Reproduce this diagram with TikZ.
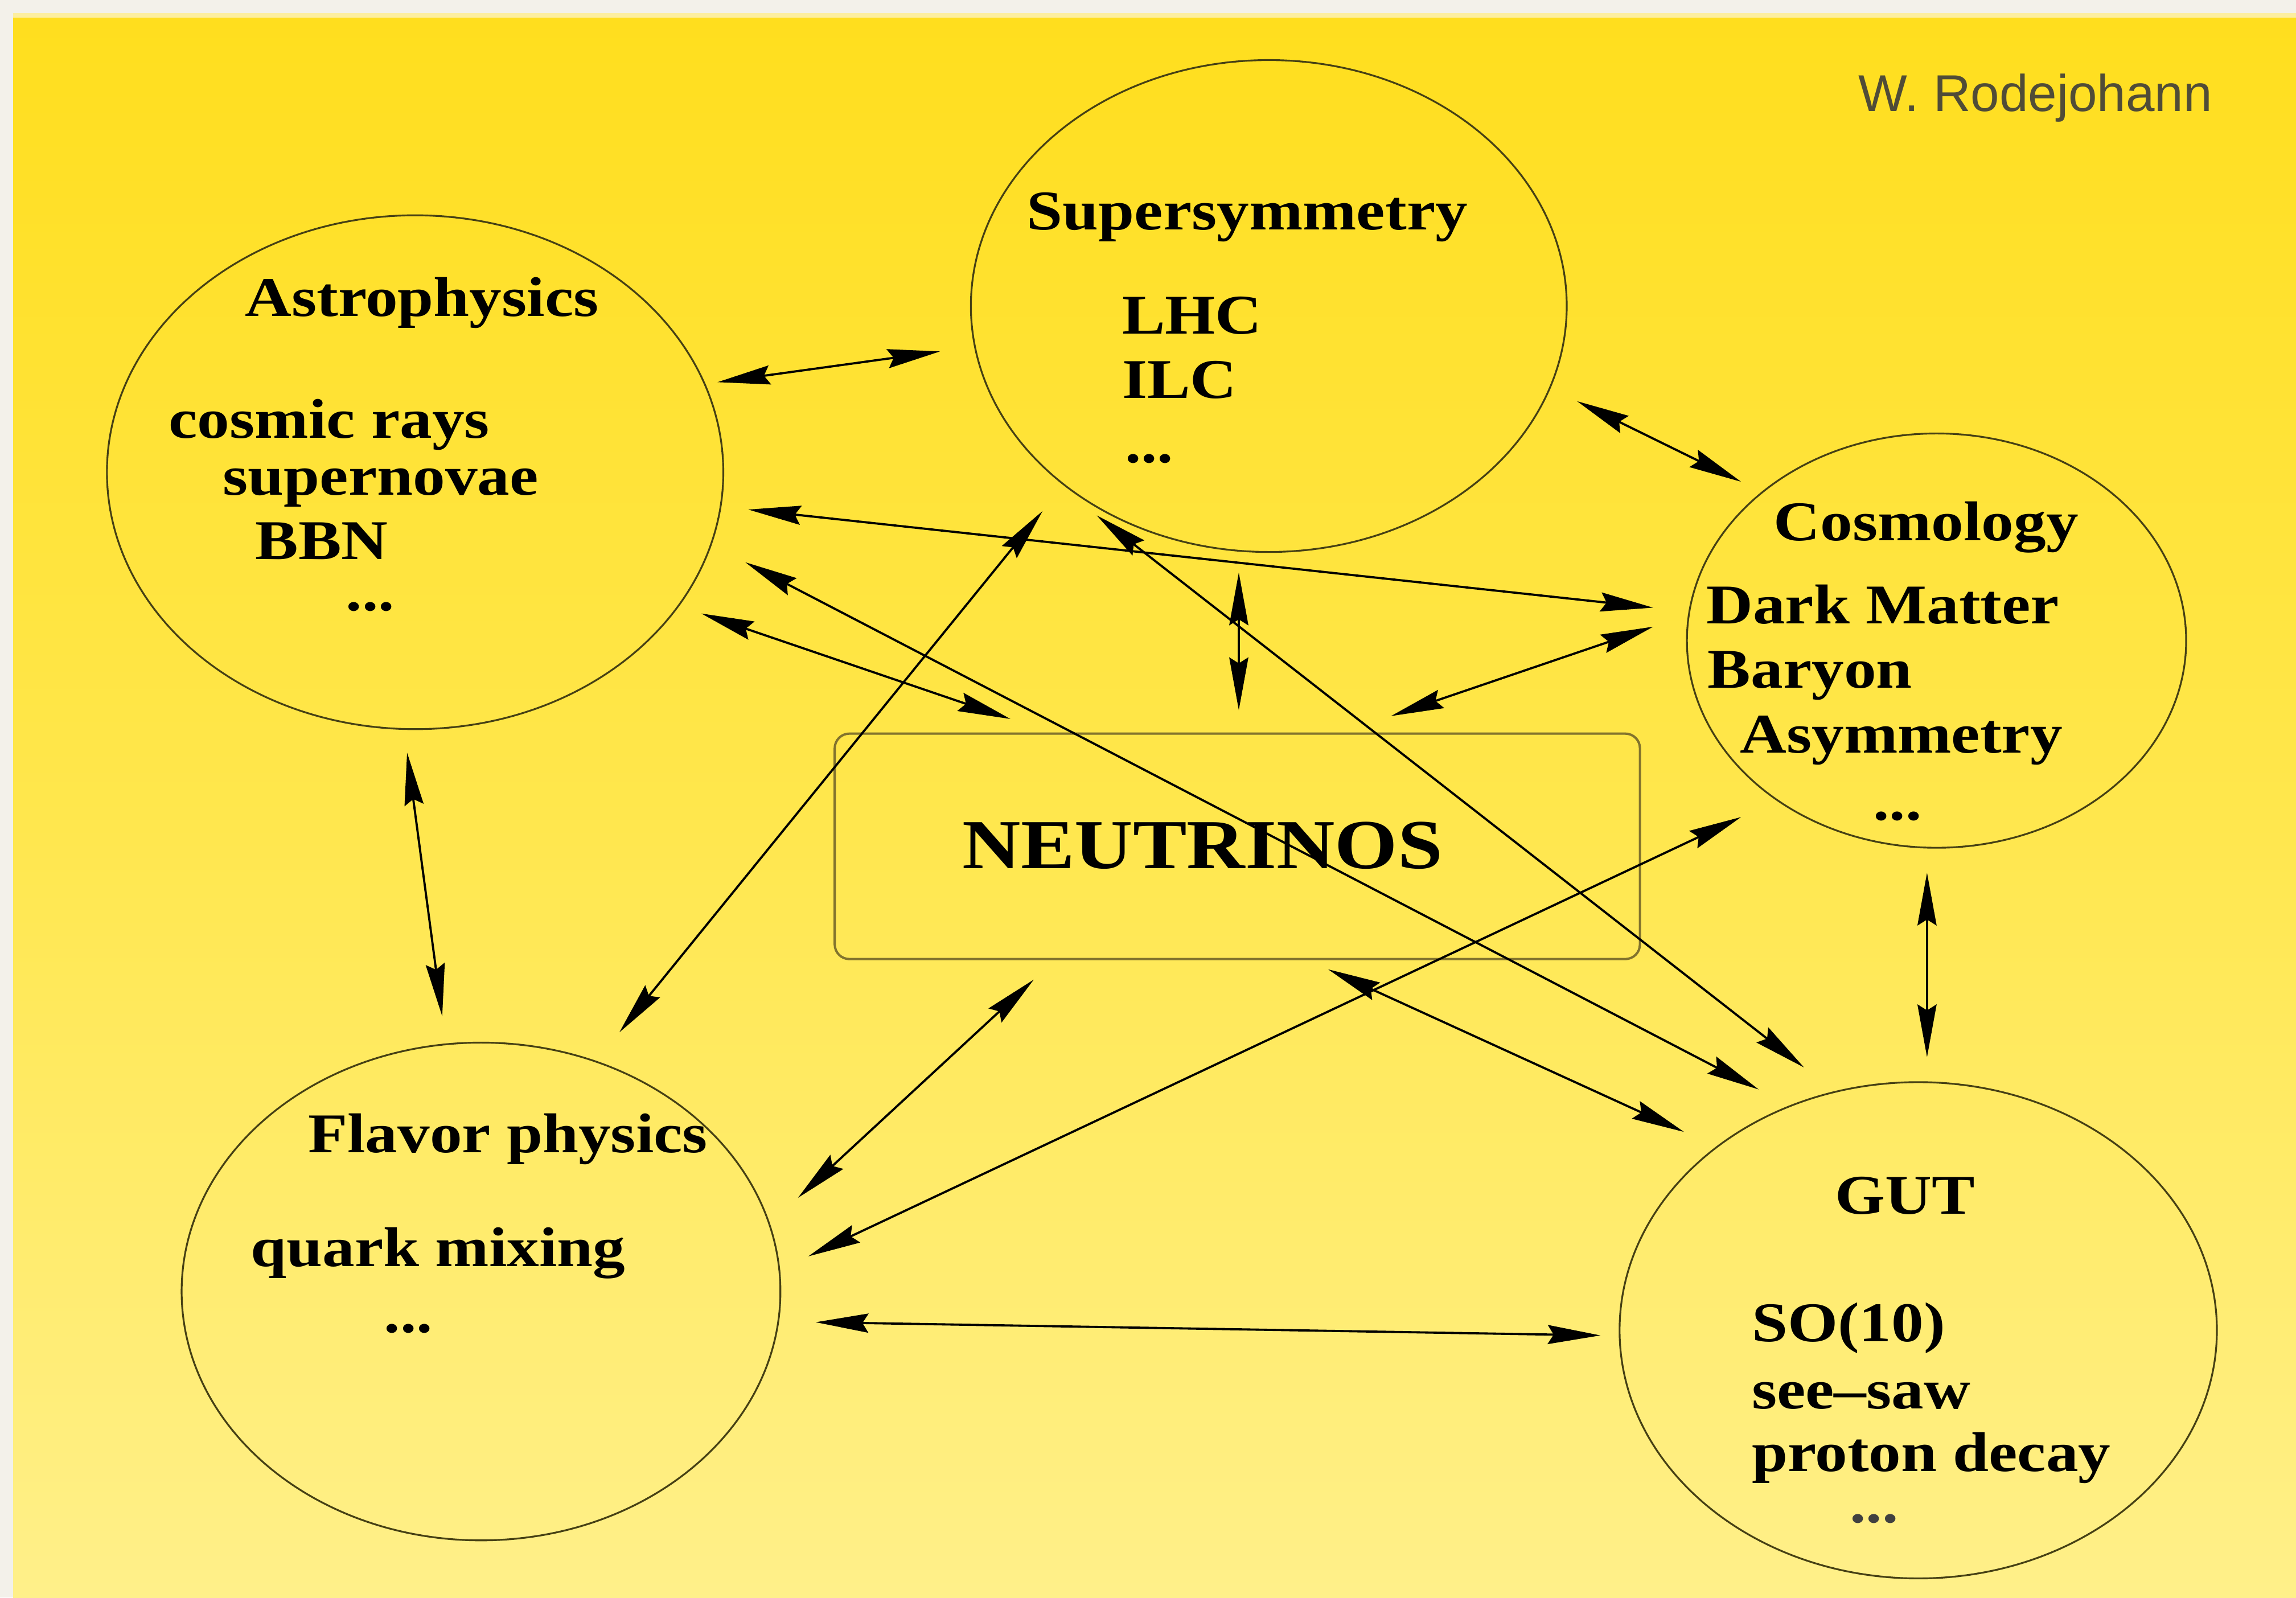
\documentclass[tikz,border=0pt]{standalone}
\usepackage{fontspec}
\setmainfont{Liberation Serif}
\newfontfamily\lab{Liberation Serif}[FakeStretch=1.15]
\newfontfamily\auth{Liberation Sans}
\usetikzlibrary{shapes.geometric,arrows.meta}

\definecolor{ellcol}{RGB}{70,64,20}
\definecolor{boxcol}{RGB}{130,115,45}
\definecolor{authcol}{RGB}{80,76,55}
\definecolor{bggray}{RGB}{243,241,234}
\definecolor{stripcol}{RGB}{252,238,160}
\pgfdeclareverticalshading{bgshade}{100bp}{rgb(0bp)=(1,0.976,0.78); rgb(50bp)=(1,0.905,0.30); rgb(80bp)=(1,0.865,0.08); rgb(100bp)=(1,0.84,0)}

\begin{document}
\begin{tikzpicture}[x=0.02cm,y=-0.02cm,
  topic/.style={ellipse, draw=ellcol, line width=0.7pt, inner sep=0pt},
  txt/.style={anchor=base west, inner sep=0pt, font=\lab\bfseries\fontsize{21.8}{25}\selectfont},
  link/.style={line width=0.85pt, {Stealth[length=0.72cm,width=0.26cm,inset=0.08cm]}-{Stealth[length=0.72cm,width=0.26cm,inset=0.08cm]}}
]
\useasboundingbox (0,0) rectangle (1568,1091);
% background
\fill[bggray] (0,0) rectangle (1568,1091);
\fill[shading=bgshade] (9,11) rectangle (1568,1091);
\fill[stripcol] (9,9) rectangle (1568,12);

% author
\node[anchor=base west, inner sep=0pt, font=\auth\fontsize{20.1}{24}\selectfont, text=authcol] (author) at (1269,76) {W. Rodejohann};

% topic ellipses
\node[topic, minimum width=8.42cm, minimum height=7.02cm] (astro) at (283.5,322.5) {};
\node[topic, minimum width=8.14cm, minimum height=6.72cm] (susy) at (866.5,209) {};
\node[topic, minimum width=6.82cm, minimum height=5.66cm] (cosmo) at (1322.5,437.5) {};
\node[topic, minimum width=8.18cm, minimum height=6.80cm] (flavor) at (328.5,882) {};
\node[topic, minimum width=8.16cm, minimum height=6.78cm] (gut) at (1310,908.5) {};

% central box
\node[draw=boxcol, rounded corners=0.2cm, line width=0.9pt, minimum width=11cm, minimum height=3.08cm, inner sep=0pt] (box) at (845,578) {};
\node[anchor=base west, inner sep=0pt, font=\lab\bfseries\fontsize{27.3}{32}\selectfont] (nutxt) at (657,593) {NEUTRINOS};

% Astrophysics texts
\node[txt] (astroT) at (167,216) {Astrophysics};
\node[txt] (astro1) at (115,299) {cosmic rays};
\node[txt] (astro2) at (152,338) {supernovae};
\node[txt] (astro3) at (174,382) {BBN};
\node[txt] (astro4) at (236,417) {...};

% Supersymmetry texts
\node[txt] (susyT) at (701,157) {Supersymmetry};
\node[txt] (susy1) at (766,228) {LHC};
\node[txt] (susy2) at (766,272) {ILC};
\node[txt] (susy3) at (768,316) {...};

% Cosmology texts
\node[txt] (cosmoT) at (1211,369) {Cosmology};
\node[txt] (cosmo1) at (1165,426) {Dark Matter};
\node[txt] (cosmo2) at (1166,470) {Baryon};
\node[txt] (cosmo3) at (1188,514) {Asymmetry};
\node[txt] (cosmo4) at (1279,560) {...};

% Flavor texts
\node[txt] (flavorT) at (210,787) {Flavor physics};
\node[txt] (flavor1) at (171,865) {quark mixing};
\node[txt] (flavor2) at (262,910) {...};

% GUT texts
\node[txt] (gutT) at (1253,829) {GUT};
\node[txt] (gut1) at (1196,916) {SO(10)};
\node[txt] (gut2) at (1196,962) {see–saw};
\node[txt] (gut3) at (1196,1005) {proton decay};
\node[txt, text=black!75] (gut4) at (1263,1040) {...};

% arrow end points
\coordinate (p1a) at (490,261);  \coordinate (p1b) at (642,240);
\coordinate (p2a) at (1077,274); \coordinate (p2b) at (1189,329);
\coordinate (p3a) at (511,348);  \coordinate (p3b) at (1129,415);
\coordinate (p4a) at (479,419);  \coordinate (p4b) at (690,491);
\coordinate (p5a) at (509,384);  \coordinate (p5b) at (1201,744);
\coordinate (p6a) at (846,391);  \coordinate (p6b) at (846,485);
\coordinate (p7a) at (1129,428); \coordinate (p7b) at (950,489);
\coordinate (p8a) at (712,349);  \coordinate (p8b) at (423,705);
\coordinate (p9a) at (749,352);  \coordinate (p9b) at (1232,729);
\coordinate (p10a) at (278,514); \coordinate (p10b) at (302,694);
\coordinate (p11a) at (1316,596); \coordinate (p11b) at (1316,722);
\coordinate (p12a) at (706,669); \coordinate (p12b) at (545,818);
\coordinate (p13a) at (1189,558); \coordinate (p13b) at (552,858);
\coordinate (p14a) at (907,662); \coordinate (p14b) at (1150,773);
\coordinate (p15a) at (557,903); \coordinate (p15b) at (1093,912);

\draw[link] (p1a) -- (p1b);
\draw[link] (p2a) -- (p2b);
\draw[link] (p3a) -- (p3b);
\draw[link] (p4a) -- (p4b);
\draw[link] (p5a) -- (p5b);
\draw[link] (p6a) -- (p6b);
\draw[link] (p7a) -- (p7b);
\draw[link] (p8a) -- (p8b);
\draw[link] (p9a) -- (p9b);
\draw[link] (p10a) -- (p10b);
\draw[link] (p11a) -- (p11b);
\draw[link] (p12a) -- (p12b);
\draw[link] (p13a) -- (p13b);
\draw[link] (p14a) -- (p14b);
\draw[link] (p15a) -- (p15b);
\end{tikzpicture}
\end{document}
